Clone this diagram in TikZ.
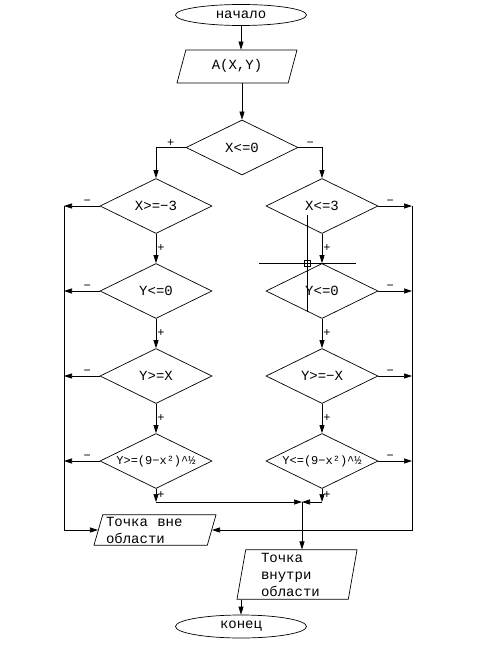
\documentclass[tikz,border=0pt]{standalone}
\usepackage{fontspec}
\setmainfont{Liberation Mono}
\usetikzlibrary{arrows.meta,shapes.geometric}
\tikzset{
  term/.style={draw,ellipse,minimum width=131pt,minimum height=21pt,inner sep=0pt,
    font=\fontsize{14}{16}\selectfont},
  io/.style={draw,trapezium,trapezium left angle=75,trapezium right angle=105,
    trapezium stretches body,inner xsep=0pt,font=\fontsize{14}{17}\selectfont},
  cond/.style={draw,diamond,aspect=2,minimum width=112pt,minimum height=55pt,
    inner sep=0pt,font=\fontsize{14}{16}\selectfont},
  arrow/.style={-{Triangle[length=8pt,width=5pt]}},
  sign/.style={font=\fontsize{12}{12}\selectfont,inner sep=1pt}
}
\newcommand{\smallcond}[1]{\makebox[0pt]{\fontsize{12}{12}\selectfont #1}}

\begin{document}
\begin{tikzpicture}[x=1pt,y=-1pt,line width=0.7pt]
  \useasboundingbox (0,0) rectangle (482,652);
  \node[term] (start) at (241,15) {начало};
  \node[io,minimum width=120pt,text height=10pt,text depth=3pt,inner ysep=10pt] (inp)
    at (237,66.5) {A(X,Y)};
  \node[cond] (c0) at (242,147.5) {X<=0};

  \node[cond] (l1) at (156,206) {X>=−3};
  \node[cond] (l2) at (156,291) {Y<=0};
  \node[cond] (l3) at (156,376) {Y>=X};
  \node[cond] (l4) at (156,461) {\smallcond{Y>=(9−x²)\textasciicircum½}};

  \node[cond] (r1) at (322,206) {X<=3};
  \node[cond] (r2) at (322,291) {Y<=0};
  \node[cond] (r3) at (322,376) {Y>=−X};
  \node[cond] (r4) at (322,461) {\smallcond{Y<=(9−x²)\textasciicircum½}};

  \node[io,minimum width=122pt,inner ysep=2pt,text width=98pt,align=left,
    trapezium left angle=74,trapezium right angle=106] (out) at (155,530) {Точка~ вне\\области};
  \node[io,minimum width=120pt,inner ysep=3pt,text width=72pt,align=left,
    trapezium left angle=80,trapezium right angle=100] (in) at (297,574.5) {Точка\\внутри\\области};
  \node[term,minimum height=23pt] (stop) at (241,626.5) {конец};

  \coordinate (lbus) at (64,0);
  \coordinate (rbus) at (412,0);
  \coordinate (lj) at (156,502);
  \coordinate (rj) at (322,502);
  \coordinate (mj) at (302,502);

  \draw[arrow] (start) -- (start |- inp.north);
  \draw[arrow] (inp.south -| c0) -- (c0);
  \draw[arrow] (c0.west) -| node[sign,pos=0.25,above]{+} (l1);
  \draw[arrow] (c0.east) -| node[sign,pos=0.25,above]{−} (r1);

  % yes branches
  \draw[arrow] (l1) -- node[sign,right]{+} (l2);
  \draw[arrow] (l2) -- node[sign,right]{+} (l3);
  \draw[arrow] (l3) -- node[sign,right]{+} (l4);
  \draw[arrow] (l4) -- node[sign,right]{+} (lj);
  \draw[arrow] (r1) -- node[sign,right]{+} (r2);
  \draw[arrow] (r2) -- node[sign,right]{+} (r3);
  \draw[arrow] (r3) -- node[sign,right]{+} (r4);
  \draw[arrow] (r4) -- node[sign,right]{+} (rj);
  \draw[arrow] (lj) -- (mj);
  \draw[arrow] (rj) -- (mj);
  \draw[arrow] (mj) -- (mj |- in.north);
  \draw[arrow] (in.south -| stop) -- (stop);

  % no branches
  \draw[arrow] (l1.west) -- node[sign,above,pos=0.35]{−} (l1.west -| lbus);
  \draw[arrow] (l2.west) -- node[sign,above,pos=0.35]{−} (l2.west -| lbus);
  \draw[arrow] (l3.west) -- node[sign,above,pos=0.35]{−} (l3.west -| lbus);
  \draw[arrow] (l4.west) -- node[sign,above,pos=0.35]{−} (l4.west -| lbus);
  \draw[arrow] (l1.west -| lbus) |- (out.west);
  \draw[arrow] (r1.east) -- node[sign,above,pos=0.35]{−} (r1.east -| rbus);
  \draw[arrow] (r2.east) -- node[sign,above,pos=0.35]{−} (r2.east -| rbus);
  \draw[arrow] (r3.east) -- node[sign,above,pos=0.35]{−} (r3.east -| rbus);
  \draw[arrow] (r4.east) -- node[sign,above,pos=0.35]{−} (r4.east -| rbus);
  \draw[arrow] (r1.east -| rbus) |- (out.east);

  % cursor
  \draw[line width=0.5pt] (259,263) -- (356,263) (307,215) -- (307,312);
  \draw[line width=0.5pt] (304,260) rectangle (310,266);
\end{tikzpicture}
\end{document}
